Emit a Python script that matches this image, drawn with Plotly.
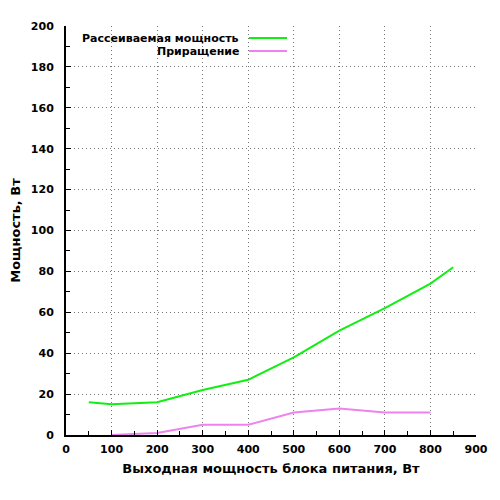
import plotly.graph_objects as go

# Рассеиваемая мощность (green)
power_x = [50, 100, 200, 300, 400, 500, 600, 700, 800, 850]
power_y = [16, 15, 16, 22, 27, 38, 51, 62, 74, 82]

# Приращение (pink)
delta_x = [100, 200, 300, 400, 500, 600, 700, 800]
delta_y = [0, 1, 5, 5, 11, 13, 11, 11]

series_names = ['Рассеиваемая мощность', 'Приращение']
series_colours = ['#11ee11', '#ee82ee']

font_name = 'DejaVu Sans'

fig = go.Figure()

fig.add_trace(go.Scatter(
    x    = power_x,
    y    = power_y,
    mode = 'lines',
    name = series_names[0],
    line = dict(color=series_colours[0], width=2)
))
fig.add_trace(go.Scatter(
    x    = delta_x,
    y    = delta_y,
    mode = 'lines',
    name = series_names[1],
    line = dict(color=series_colours[1], width=2)
))

# page body adds an 8px offset, so the plot box is given in page pixels
box_l, box_r, box_t, box_b = 66, 476, 26, 435
box_w = box_r - box_l
box_h = box_b - box_t

# legend drawn by hand: text right-aligned, sample line on the right
legend_rows = [38, 51]
for i, name in enumerate(series_names):
    ypos = 1 - (legend_rows[i] - box_t) / box_h
    fig.add_annotation(
        x = (241 - box_l) / box_w, y = ypos, xref='paper', yref='paper',
        text = '<b>' + name + '</b>', showarrow=False,
        xanchor = 'right', yanchor = 'middle',
        font = dict(family=font_name, size=11, color='black')
    )
    fig.add_shape(
        type = 'line', xref='paper', yref='paper',
        x0 = (249 - box_l) / box_w, x1 = (287 - box_l) / box_w, y0 = ypos, y1 = ypos,
        line = dict(color=series_colours[i], width=2)
    )

fig.update_layout(
    width         = 500,
    height        = 500,
    margin        = dict(l=box_l - 8, r=500 - (box_r - 8), t=box_t - 8, b=500 - (box_b - 8)),
    plot_bgcolor  = 'white',
    paper_bgcolor = 'white',
    showlegend    = False,
    font          = dict(family=font_name, size=11, color='black')
)

grid_dash = '1px,3px'

fig.update_xaxes(
    range      = [0, 900],
    dtick      = 100,
    automargin = False,
    showgrid   = True,
    gridcolor  = '#777777',
    griddash   = grid_dash,
    gridwidth  = 1,
    zeroline   = False,
    showline   = True,
    linecolor  = 'black',
    linewidth  = 2,
    ticks      = 'inside',
    ticklen    = 5,
    tickcolor  = 'black',
    ticklabelstandoff = 3,
    minor      = dict(dtick=50, ticks='inside', ticklen=4, tickcolor='black', showgrid=False),
    tickfont   = dict(family=font_name, size=11, color='black', weight='bold'),
    title      = dict(text='<b>Выходная мощность блока питания, Вт</b>',
                      font=dict(family=font_name, size=13), standoff=9)
)
fig.update_yaxes(
    range      = [0, 200],
    dtick      = 20,
    automargin = False,
    showgrid   = True,
    gridcolor  = '#777777',
    griddash   = grid_dash,
    gridwidth  = 1,
    zeroline   = False,
    showline   = True,
    linecolor  = 'black',
    linewidth  = 2,
    ticks      = 'inside',
    ticklen    = 5,
    tickcolor  = 'black',
    ticklabelstandoff = 8,
    minor      = dict(dtick=10, ticks='inside', ticklen=4, tickcolor='black', showgrid=False),
    tickfont   = dict(family=font_name, size=11, color='black', weight='bold'),
    title      = dict(text='<b>Мощность, Вт</b>',
                      font=dict(family=font_name, size=13), standoff=13)
)

fig.write_html("out.html")
